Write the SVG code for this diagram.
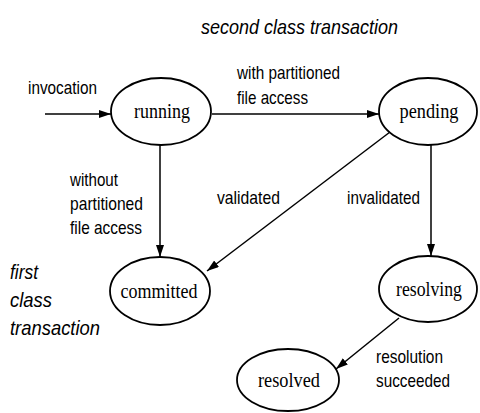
<svg xmlns="http://www.w3.org/2000/svg" width="480" height="413" viewBox="0 0 480 413">
<style>
.node ellipse{fill:#fff;stroke:#000;stroke-width:1.8}
.node text{font-family:"Liberation Serif",serif;font-size:22px;fill:#000;text-anchor:middle}
.lbl{font-family:"Liberation Sans",sans-serif;font-size:19px;fill:#000}
.it{font-family:"Liberation Sans",sans-serif;font-size:21px;font-style:italic;fill:#000}
#edges line{stroke:#000;stroke-width:1.5;marker-end:url(#ah)}
</style>
<defs>
<marker id="ah" markerUnits="userSpaceOnUse" markerWidth="13" markerHeight="9" refX="12" refY="4" orient="auto">
<path d="M0,0 L12,4 L0,8 z" fill="#000"/>
</marker>
</defs>
<g id="edges">
<line x1="45" y1="114" x2="111" y2="114"/>
<line x1="212" y1="114" x2="379" y2="114"/>
<line x1="160" y1="145" x2="160" y2="257"/>
<line x1="390" y1="132" x2="207" y2="271"/>
<line x1="431" y1="145" x2="431" y2="256"/>
<line x1="399" y1="318" x2="336" y2="369"/>
</g>
<g id="running" class="node"><ellipse cx="161" cy="111.5" rx="50" ry="33.5"/><text x="162" y="118" textLength="56" lengthAdjust="spacingAndGlyphs">running</text></g>
<g id="pending" class="node"><ellipse cx="428" cy="111.5" rx="49" ry="33.5"/><text x="429" y="118" textLength="59" lengthAdjust="spacingAndGlyphs">pending</text></g>
<g id="committed" class="node"><ellipse cx="160" cy="291" rx="50" ry="34"/><text x="159" y="298" textLength="77" lengthAdjust="spacingAndGlyphs">committed</text></g>
<g id="resolving" class="node"><ellipse cx="428" cy="289" rx="49" ry="33"/><text x="429" y="296" textLength="66" lengthAdjust="spacingAndGlyphs">resolving</text></g>
<g id="resolved" class="node"><ellipse cx="288" cy="380" rx="51" ry="31"/><text x="289" y="387" textLength="62" lengthAdjust="spacingAndGlyphs">resolved</text></g>
<g id="labels">
<text class="it" x="201" y="34" textLength="197" lengthAdjust="spacingAndGlyphs">second class transaction</text>
<text class="lbl" x="28" y="94" textLength="69" lengthAdjust="spacingAndGlyphs">invocation</text>
<text class="lbl" x="237" y="79" textLength="103" lengthAdjust="spacingAndGlyphs">with partitioned</text>
<text class="lbl" x="237" y="104" textLength="71" lengthAdjust="spacingAndGlyphs">file access</text>
<text class="lbl" x="70" y="186" textLength="48" lengthAdjust="spacingAndGlyphs">without</text>
<text class="lbl" x="70" y="210" textLength="73" lengthAdjust="spacingAndGlyphs">partitioned</text>
<text class="lbl" x="70" y="234" textLength="72" lengthAdjust="spacingAndGlyphs">file access</text>
<text class="lbl" x="217" y="204" textLength="63" lengthAdjust="spacingAndGlyphs">validated</text>
<text class="lbl" x="347" y="204" textLength="73" lengthAdjust="spacingAndGlyphs">invalidated</text>
<text class="it" x="10" y="279" textLength="28" lengthAdjust="spacingAndGlyphs">first</text>
<text class="it" x="10" y="307" textLength="42" lengthAdjust="spacingAndGlyphs">class</text>
<text class="it" x="10" y="335" textLength="90" lengthAdjust="spacingAndGlyphs">transaction</text>
<text class="lbl" x="376" y="363" textLength="67" lengthAdjust="spacingAndGlyphs">resolution</text>
<text class="lbl" x="376" y="387" textLength="74" lengthAdjust="spacingAndGlyphs">succeeded</text>
</g>
</svg>
